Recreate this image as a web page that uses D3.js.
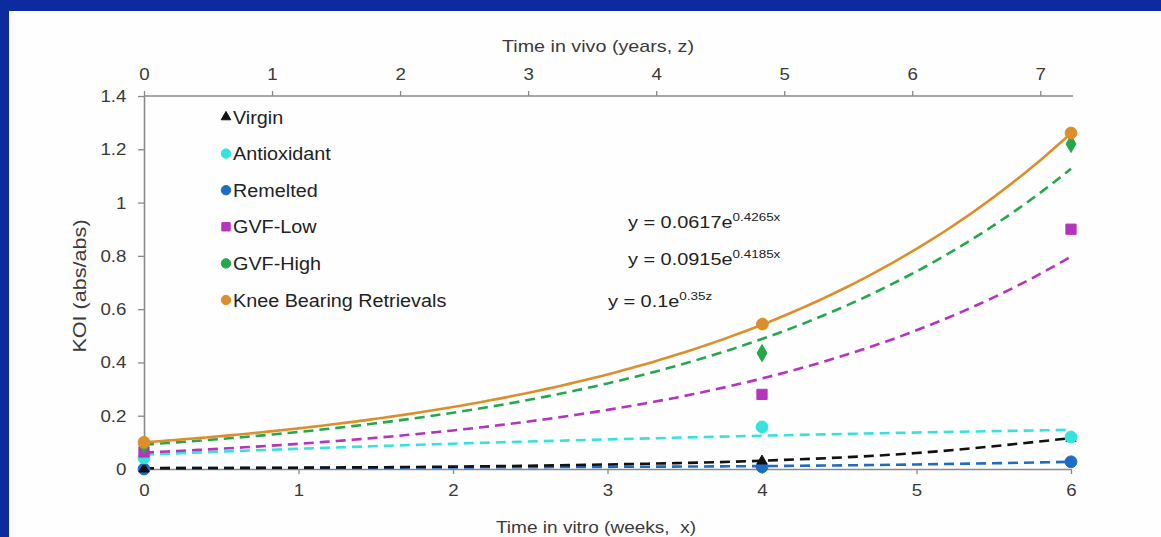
<!DOCTYPE html>
<html><head><meta charset="utf-8">
<script src="https://cdn.jsdelivr.net/npm/d3@7"></script>
<style>
html,body{margin:0;padding:0;background:#fff;}
svg{display:block;font-family:"Liberation Sans",Arial,sans-serif;}
</style></head>
<body>
<svg id="c" width="1161" height="537"></svg>
<script>
// ---- data ----
const weeks = [0, 4, 6];
const yearsKnee = [0, 4.83, 7.24];
const virgin = [0, 0.03, 0.115];
const antioxidant = [0.041, 0.158, 0.12];
const remelted = [0, 0.008, 0.027];
const gvfLow = [0.064, 0.28, 0.90];
const gvfHigh = [0.09, 0.435, 1.22];
const knee = [0.1, 0.544, 1.261];
const trendWeeks = [0, 1, 2, 3, 4, 5, 6];
const virginTrend = [0.003, 0.005, 0.009, 0.017, 0.031, 0.06, 0.116];
const antioxidantTrend = [0.054, 0.076, 0.095, 0.111, 0.125, 0.137, 0.147];
const remeltedTrend = [0.003, 0.004, 0.006, 0.008, 0.011, 0.017, 0.027];
// exponential trendline coefficients (printed on chart)
const gvfLowFit = {a: 0.0617, b: 0.4265};
const gvfHighFit = {a: 0.0915, b: 0.4185};
const kneeFit = {a: 0.1, b: 0.35};
const yTicks = [0, 0.2, 0.4, 0.6, 0.8, 1, 1.2, 1.4];
const xTicks = [0, 1, 2, 3, 4, 5, 6];
const zTicks = [0, 1, 2, 3, 4, 5, 6, 7];
const legendNames = ["Virgin", "Antioxidant", "Remelted", "GVF-Low", "GVF-High", "Knee Bearing Retrievals"];

const col = {virgin:"#111111", anti:"#33e3dc", rem:"#1f6cc4", low:"#b434bb", high:"#25a84c", knee:"#dc8e2b"};

const svg = d3.select("#c");
// frame
svg.append("rect").attr("x",0).attr("y",0).attr("width",1161).attr("height",537).attr("fill","#0b2b9e");
svg.append("rect").attr("x",9).attr("y",11).attr("width",1152).attr("height",526).attr("fill","#fefefe");

const x = d3.scaleLinear().domain([0,6]).range([144,1071]);
const z = d3.scaleLinear().domain([0,7.24]).range([144,1071]);
const y = d3.scaleLinear().domain([0,1.4]).range([469,96]);

const axisColor = "#8a8a8a", textColor = "#3a3a3a";
function style(g){
  g.select(".domain").attr("stroke",axisColor).attr("stroke-width",1.6);
  g.selectAll(".tick line").attr("stroke",axisColor).attr("stroke-width",1.3);
  g.selectAll(".tick text").attr("fill",textColor).attr("font-size",17)
    .attr("font-family","Liberation Sans, Arial, sans-serif").attr("transform","scale(1.1,1)");
}
const gx = svg.append("g").attr("transform",`translate(0,${y(0)})`)
  .call(d3.axisBottom(x).tickValues(xTicks).tickSize(5).tickSizeOuter(0).tickPadding(10).tickFormat(d3.format("d")));
style(gx);
const gz = svg.append("g").attr("transform",`translate(0,${y(1.4)})`)
  .call(d3.axisTop(z).tickValues(zTicks).tickSize(5).tickSizeOuter(0).tickPadding(11).tickFormat(d3.format("d")));
style(gz);
gz.select(".domain").attr("d",`M144,0H1073`);
const gy = svg.append("g").attr("transform",`translate(${x(0)},0)`)
  .call(d3.axisLeft(y).tickValues(yTicks).tickSize(6).tickSizeOuter(0).tickPadding(10).tickFormat(d => String(+d.toFixed(1))));
style(gy);

// helper for horizontally stretched text
function txt(px, py, str, size, sx, anchor, color, rot){
  const g = svg.append("g").attr("transform",`translate(${px},${py})${rot?` rotate(${rot})`:""} scale(${sx},1)`);
  return g.append("text").attr("x",0).attr("y",0).attr("font-size",size).attr("fill",color||textColor)
    .attr("text-anchor",anchor||"start").attr("xml:space","preserve").text(str);
}
// axis titles
txt(598, 52, "Time in vivo (years, z)", 17, 1.16, "middle");
txt(596, 533, "Time in vitro (weeks,  x)", 17, 1.12, "middle");
txt(86, 286, "KOI (abs/abs)", 18, 1.2, "middle", textColor, -90);

// trend lines
const dash = "10,6";
function fitPts(f, dom, n){ const s=d3.scaleLinear().domain([0,n]).range(dom); return d3.range(n+1).map(i=>[s(i), f.a*Math.exp(f.b*s(i))]); }
const lineW = d3.line().x(d=>x(d[0])).y(d=>y(d[1]));
const lineZ = d3.line().x(d=>z(d[0])).y(d=>y(d[1]));
const lineS = d3.line().x(d=>x(d[0])).y(d=>y(d[1])).curve(d3.curveMonotoneX);

function path(data, gen, color, dashed, w){
  svg.append("path").datum(data).attr("d",gen).attr("fill","none").attr("stroke",color)
    .attr("stroke-width",w||2.6).attr("stroke-dasharray",dashed?dash:null);
}
path(trendWeeks.map((t,i)=>[t,antioxidantTrend[i]]), lineS, col.anti, true);
path(trendWeeks.map((t,i)=>[t,remeltedTrend[i]]), lineS, col.rem, true);
path(trendWeeks.map((t,i)=>[t,virginTrend[i]]), lineS, col.virgin, true);
path(fitPts(gvfLowFit,[0,6],120), lineW, col.low, true);
path(fitPts(gvfHighFit,[0,6],120), lineW, col.high, true);
path(fitPts(kneeFit,[0,7.24],120), lineZ, col.knee, false, 2.6);

// markers
const sym = {
  tri: d3.symbol().type(d3.symbolTriangle).size(45),
  circ: d3.symbol().type(d3.symbolCircle).size(110),
  sq: d3.symbol().type(d3.symbolSquare).size(105),
  dia: d3.symbol().type(d3.symbolDiamond).size(85)
};
function markers(xs, ys, sc, s, color){
  svg.append("g").selectAll("path").data(xs.map((v,i)=>[v,ys[i]])).join("path")
    .attr("transform",d=>`translate(${sc(d[0])},${y(d[1])})`).attr("d",s).attr("fill",color)
    .attr("stroke",color).attr("stroke-width",1).attr("stroke-linejoin","round");
}
markers(weeks, remelted, x, sym.circ, col.rem);
markers(weeks, virgin, x, sym.tri, col.virgin);
markers(weeks, antioxidant, x, sym.circ, col.anti);
markers(weeks, gvfLow, x, sym.sq, col.low);
markers(weeks, gvfHigh, x, sym.dia, col.high);
markers(yearsKnee, knee, z, sym.circ, col.knee);

// legend
const legCols = [col.virgin, col.anti, col.rem, col.low, col.high, col.knee];
legendNames.forEach((n,i)=>{
  const yy = 117 + i*36.6;
  const s = i===0 ? d3.symbol().type(d3.symbolTriangle).size(40) : (i===3 ? d3.symbol().type(d3.symbolSquare).size(70) : d3.symbol().type(d3.symbolCircle).size(70));
  svg.append("path").attr("transform",`translate(226,${yy})`).attr("d",s).attr("fill",legCols[i]).attr("stroke",legCols[i]).attr("stroke-linejoin","round");
  txt(233, yy+6.5, n, 18.5, 1.07, "start", "#222");
});

// equations
function eq(xp, yp, base, exp){
  const t = txt(xp, yp, base, 17, 1.17, "start", "#222");
  t.append("tspan").attr("dy",-7).attr("font-size",11.5).text(exp);
}
eq(628, 228, "y = 0.0617e", "0.4265x");
eq(628, 265, "y = 0.0915e", "0.4185x");
eq(608, 307, "y = 0.1e", "0.35z");
</script>
</body></html>
